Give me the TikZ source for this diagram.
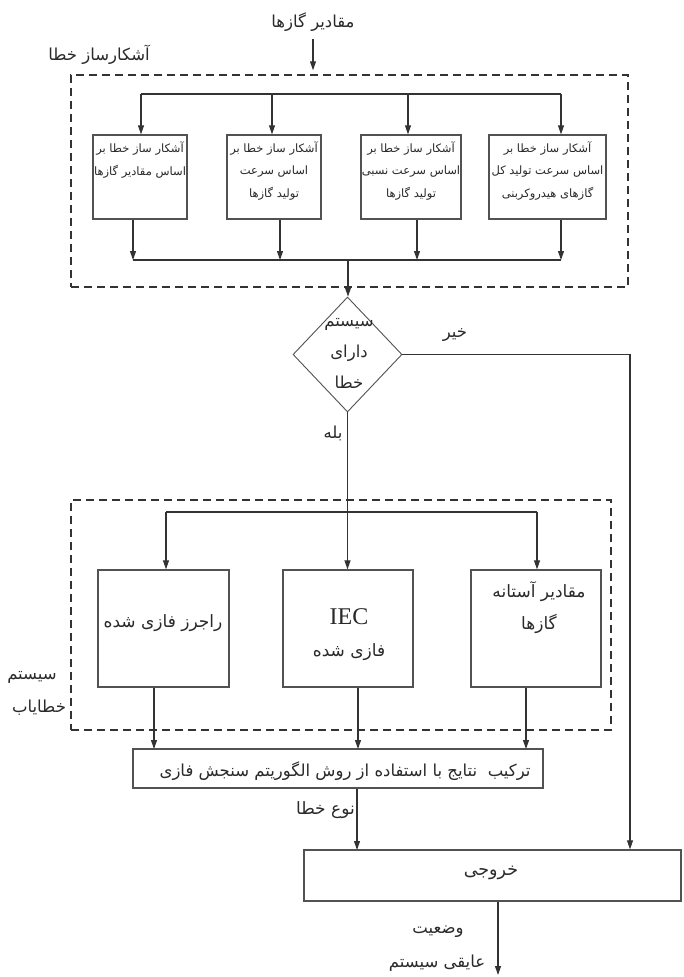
\documentclass[tikz,border=0pt]{standalone}
\usepackage{fontspec}
\setmainfont{Liberation Serif}
\newfontfamily\arabicfont[Script=Arabic]{DejaVu Sans}
\TeXXeTstate=1
\usetikzlibrary{arrows.meta,shapes.geometric,calc}
\newcommand{\fa}[1]{{\arabicfont\beginR #1\endR}}
\definecolor{lc}{HTML}{333333}
\definecolor{tc}{HTML}{2A2A2A}
\begin{document}
\begin{tikzpicture}[x=1pt,y=-1pt,
  ln/.style={draw=lc, line width=1.1pt},
  arr/.style={ln, -{Triangle[length=9pt,width=6pt]}},
  dbox/.style={draw=lc, line width=1.5pt, dash pattern=on 8pt off 5pt, inner sep=0pt},
  box/.style={draw=lc!85, line width=1.3pt, inner sep=0pt},
  txt/.style={text=tc, inner sep=0pt, align=center},
  tiny/.style={txt, font=\fontsize{11.5}{22.5}\selectfont},
  mid/.style={txt, font=\fontsize{16.5}{31}\selectfont},
  big/.style={txt, font=\fontsize{17}{32}\selectfont}
]
\useasboundingbox (0,0) rectangle (683,977);
\fill[white] (0,0) rectangle (683,977);

% input
\node[mid] (inp) at (313,22) {\fa{مقادیر گازها}};
\node[mid] (detlbl) at (99,55) {\fa{آشکارساز خطا}};
\node[dbox, minimum width=557pt, minimum height=212pt] (detbox) at (349.5,181) {};
\coordinate (inq) at (313,39);
\draw[arr] (inq) -- ($(inq |- detbox.north)+(0,-4)$);
\coordinate (t1) at (141,94);
\coordinate (t2) at (272,94);
\coordinate (t3) at (408,94);
\coordinate (t4) at (561,94);

% detector boxes
\node[box, minimum width=94pt, minimum height=84pt] (d1) at (140,177) {};
\node[box, minimum width=94pt, minimum height=84pt] (d2) at (274,177) {};
\node[box, minimum width=100pt, minimum height=84pt] (d3) at (411,177) {};
\node[box, minimum width=117pt, minimum height=84pt] (d4) at (547.5,177) {};
\node[tiny] (d1t) at (140,160) {\fa{آشکار ساز خطا بر}\\\fa{اساس مقادیر گازها}};
\node[tiny] (d2t) at (274,171) {\fa{آشکار ساز خطا بر}\\\fa{اساس سرعت}\\\fa{تولید گازها}};
\node[tiny] (d3t) at (411,171) {\fa{آشکار ساز خطا بر}\\\fa{اساس سرعت نسبی}\\\fa{تولید گازها}};
\node[tiny] (d4t) at (547.5,171) {\fa{آشکار ساز خطا بر}\\\fa{اساس سرعت تولید کل}\\\fa{گازهای هیدروکربنی}};

\draw[ln] (t1) -- (t4);
\draw[arr] (t1) -- (t1 |- d1.north);
\draw[arr] (t2) -- (t2 |- d2.north);
\draw[arr] (t3) -- (t3 |- d3.north);
\draw[arr] (t4) -- (t4 |- d4.north);

\coordinate (c1) at (133,260);
\coordinate (c2) at (280,260);
\coordinate (c3) at (417,260);
\coordinate (c4) at (561,260);
\coordinate (cm) at (348,260);
\draw[arr] (c1 |- d1.south) -- (c1);
\draw[arr] (c2 |- d2.south) -- (c2);
\draw[arr] (c3 |- d3.south) -- (c3);
\draw[arr] (c4 |- d4.south) -- (c4);
\draw[ln] (c1) -- (c4);

% decision
\node[draw=lc!85, line width=0.9pt, shape=diamond, inner sep=0pt,
      minimum width=109pt, minimum height=115pt] (dec) at (347.5,354.5) {};
\node[mid] (dect) at (349,353) {\fa{سیستم}\\\fa{دارای}\\\fa{خطا}};
\draw[arr] (cm) -- (cm |- dec.north);
\node[mid] (no) at (455,335) {\fa{خیر}};
\node[mid] (yes) at (333,433) {\fa{بله}};

% fault diagnosis system
\node[dbox, minimum width=540pt, minimum height=230pt] (sysbox) at (341,615) {};
\node[mid] (syslbl1) at (32,677) {\fa{سیستم}};
\node[mid] (syslbl2) at (39,708) {\fa{خطایاب}};

\node[box, minimum width=131pt, minimum height=117pt] (e1) at (163.5,628.5) {};
\node[box, minimum width=130pt, minimum height=117pt] (e2) at (348,628.5) {};
\node[box, minimum width=130pt, minimum height=117pt] (e3) at (536,628.5) {};
\node[big] (e1t) at (163,623) {\fa{راجرز فازی شده}};
\node[big] (e2t) at (349,635) {{\fontsize{24}{32}\selectfont IEC}\\\fa{فازی شده}};
\node[big] (e3t) at (539,608) {\fa{مقادیر آستانه}\\\fa{گازها}};

\coordinate (s1) at (166,512);
\coordinate (s3) at (537,512);
\draw[ln] (s1) -- (s3);
\draw[arr] (s1) -- (s1 |- e1.north);
\draw[arr] (s3) -- (s3 |- e3.north);
\draw[arr] (dec.south) -- (dec.south |- e2.north);

% combination
\node[box, minimum width=410pt, minimum height=39pt] (comb) at (338,768.5) {};
\node[mid] (combt) at (345,771) {\fa{ترکیب\ \ نتایج با استفاده از روش الگوریتم سنجش فازی}};
\coordinate (k1) at (154,749);
\coordinate (k2) at (358,749);
\coordinate (k3) at (526,749);
\draw[arr] (e1.south -| k1) -- (k1);
\draw[arr] (e2.south -| k2) -- (k2);
\draw[arr] (e3.south -| k3) -- (k3);

% output
\node[box, minimum width=377pt, minimum height=51pt] (out) at (492.5,875.5) {};
\node[mid, font=\fontsize{17.5}{31}\selectfont] (outt) at (491,873) {\fa{خروجی}};
\coordinate (m1) at (357,850);
\draw[arr] (comb.south -| m1) -- (m1);
\node[mid, anchor=east, font=\fontsize{17}{31}\selectfont] (typ) at (355,810) {\fa{نوع خطا}};

\coordinate (nr) at (630,354.5);
\draw[arr] (dec.east) -- (nr) -- (nr |- out.north);

\coordinate (o1) at (498,975);
\draw[arr] (out.south -| o1) -- (o1);
\node[mid] (st1) at (438,932) {\fa{وضعیت}};
\node[mid] (st2) at (437,963) {\fa{عایقی سیستم}};
\end{tikzpicture}
\end{document}
